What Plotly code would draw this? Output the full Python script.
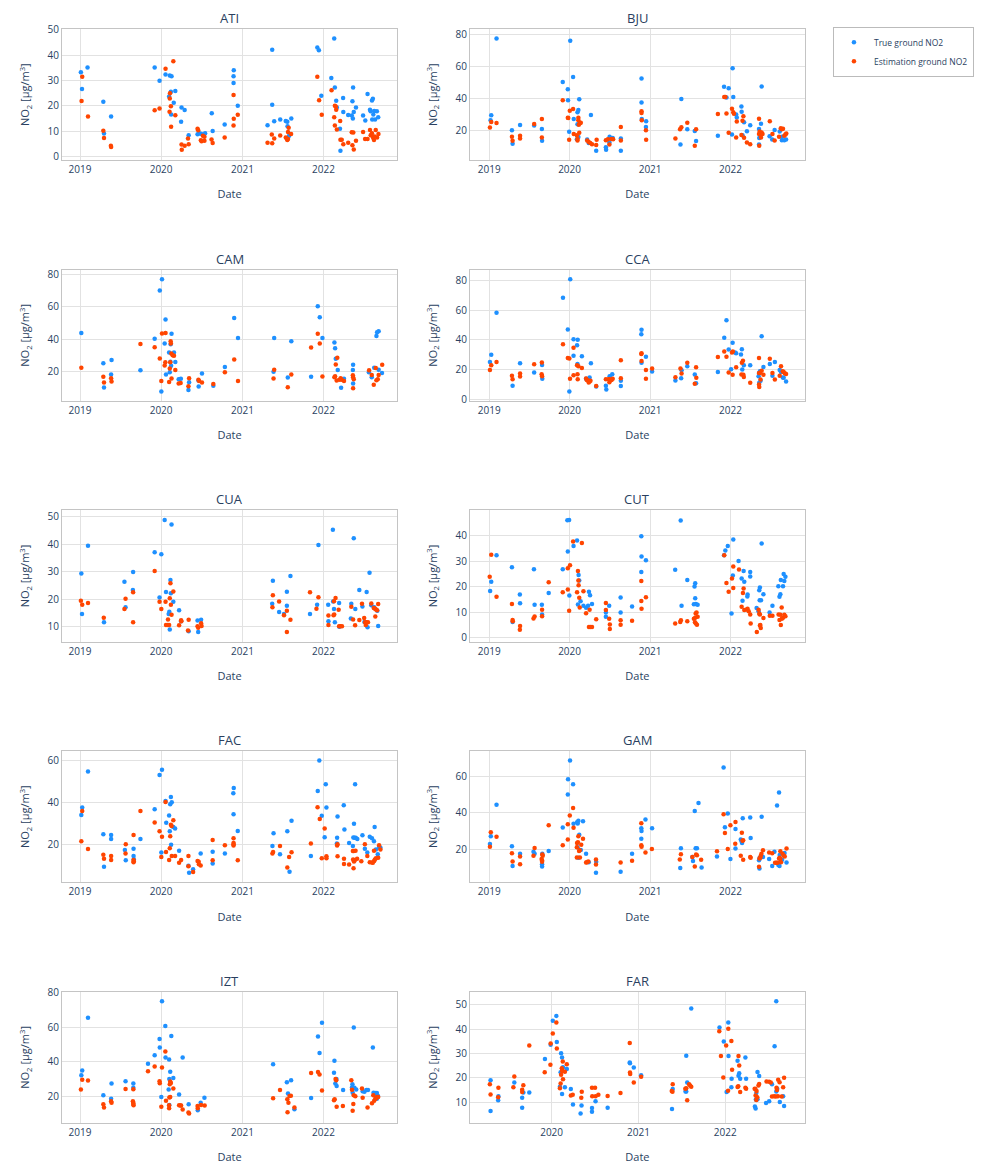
import pandas as pd
import plotly.graph_objects as go
from plotly.subplots import make_subplots

# Monitoring stations, in panel order (left to right, top to bottom)
STATIONS = ["ATI", "BJU", "CAM", "CCA", "CUA", "CUT", "FAC", "GAM", "IZT", "FAR"]

# (date, NO2 µg/m3) measured at the ground
ATI_TRUE = [("2019-01-05", 33.3), ("2019-01-10", 26.7), ("2019-02-04", 35.2), ("2019-04-16", 21.6), ("2019-04-19", 9.1),
            ("2019-05-21", 15.8), ("2019-12-03", 35.2), ("2019-12-25", 29.9), ("2020-01-21", 32.4), ("2020-02-09", 32.0),
            ("2020-02-17", 31.7), ("2020-02-06", 23.7), ("2020-02-14", 25.6), ("2020-02-15", 16.6), ("2020-02-27", 21.2),
            ("2020-03-05", 25.9), ("2020-03-31", 13.7), ("2020-04-02", 19.4), ("2020-04-16", 18.4), ("2020-05-04", 8.4),
            ("2020-06-13", 8.8), ("2020-06-20", 9.2), ("2020-06-28", 9.0), ("2020-07-07", 8.7), ("2020-07-17", 9.2),
            ("2020-08-16", 17.1), ("2020-08-20", 10.1), ("2020-10-13", 12.7), ("2020-11-23", 34.1), ("2020-11-22", 31.7),
            ("2020-11-22", 29.0), ("2020-12-11", 20.1), ("2021-05-15", 42.2), ("2021-05-15", 20.5), ("2021-04-24", 12.4),
            ("2021-05-24", 13.9), ("2021-06-20", 14.6), ("2021-07-15", 14.0), ("2021-07-22", 13.7), ("2021-07-23", 12.0),
            ("2021-08-09", 15.0), ("2021-07-30", 8.2), ("2021-12-04", 43.1), ("2021-12-11", 42.0), ("2021-12-22", 24.0),
            ("2022-02-05", 31.0), ("2022-02-21", 27.3), ("2022-02-18", 46.6), ("2022-02-27", 22.0), ("2022-03-02", 19.4),
            ("2022-03-16", 11.0), ("2022-03-18", 2.3), ("2022-03-30", 23.1), ("2022-03-31", 17.6), ("2022-04-22", 16.4),
            ("2022-05-08", 16.2), ("2022-05-11", 21.8), ("2022-05-13", 15.0), ("2022-05-14", 27.3), ("2022-05-17", 17.6),
            ("2022-05-27", 19.4), ("2022-07-08", 14.2), ("2022-06-28", 16.2), ("2022-07-18", 24.7), ("2022-07-29", 18.5),
            ("2022-08-01", 17.9), ("2022-08-07", 22.1), ("2022-08-11", 22.8), ("2022-08-13", 16.6), ("2022-08-17", 18.0),
            ("2022-08-08", 14.6), ("2022-08-21", 14.6), ("2022-08-29", 17.9), ("2022-09-04", 15.5)]
ATI_EST = [("2019-01-08", 21.9), ("2019-01-11", 31.5), ("2019-02-06", 15.8), ("2019-04-16", 10.2), ("2019-04-19", 7.3),
           ("2019-05-20", 4.3), ("2019-05-21", 3.8), ("2019-12-03", 18.3), ("2019-12-25", 19.0), ("2020-01-21", 34.7),
           ("2020-02-25", 37.6), ("2020-02-09", 22.9), ("2020-02-10", 25.0), ("2020-02-08", 17.7), ("2020-02-14", 19.9),
           ("2020-02-15", 11.8), ("2020-03-05", 16.3), ("2020-04-02", 4.8), ("2020-04-03", 2.7), ("2020-04-16", 4.3),
           ("2020-05-04", 4.9), ("2020-05-01", 7.1), ("2020-06-13", 11.0), ("2020-06-16", 10.4), ("2020-06-28", 6.4),
           ("2020-07-01", 6.0), ("2020-07-07", 8.2), ("2020-07-14", 7.8), ("2020-07-14", 6.2), ("2020-08-15", 6.7),
           ("2020-08-20", 5.3), ("2020-10-13", 7.5), ("2020-11-22", 24.3), ("2020-11-23", 14.9), ("2020-11-22", 12.3),
           ("2020-12-11", 16.5), ("2021-04-24", 5.4), ("2021-05-13", 8.7), ("2021-05-15", 5.2), ("2021-05-24", 7.1),
           ("2021-06-20", 8.3), ("2021-07-15", 7.5), ("2021-07-20", 7.0), ("2021-07-22", 6.5), ("2021-07-25", 6.9),
           ("2021-07-28", 11.4), ("2021-07-25", 9.7), ("2021-08-08", 8.9), ("2021-12-04", 31.5), ("2021-12-12", 22.2),
           ("2021-12-24", 16.5), ("2022-02-06", 26.2), ("2022-02-21", 20.1), ("2022-02-25", 19.8), ("2022-02-27", 18.5),
           ("2022-02-18", 15.5), ("2022-02-21", 12.3), ("2022-03-02", 10.7), ("2022-03-17", 14.0), ("2022-03-18", 6.6),
           ("2022-03-24", 6.6), ("2022-03-31", 4.9), ("2022-04-22", 5.4), ("2022-05-08", 9.6), ("2022-05-15", 9.5),
           ("2022-05-11", 4.5), ("2022-05-17", 2.8), ("2022-05-27", 6.2), ("2022-06-28", 9.7), ("2022-07-07", 6.9),
           ("2022-07-18", 6.9), ("2022-07-29", 10.5), ("2022-08-01", 8.4), ("2022-08-07", 9.2), ("2022-08-11", 7.8),
           ("2022-08-13", 7.3), ("2022-08-16", 6.5), ("2022-08-19", 7.9), ("2022-08-24", 10.5), ("2022-08-30", 7.5),
           ("2022-09-05", 8.9)]

BJU_TRUE = [("2019-01-07", 26.4), ("2019-01-10", 29.5), ("2019-02-03", 77.5), ("2019-04-14", 20.2), ("2019-04-17", 11.8),
            ("2019-05-21", 23.5), ("2019-07-24", 23.1), ("2019-08-28", 21.0), ("2019-08-29", 13.6), ("2019-12-01", 50.3),
            ("2019-12-24", 45.8), ("2019-12-25", 39.0), ("2019-12-30", 19.2), ("2020-01-04", 76.1), ("2020-01-17", 53.4),
            ("2020-01-20", 27.2), ("2020-02-03", 14.6), ("2020-02-06", 31.5), ("2020-02-10", 32.8), ("2020-02-14", 39.6),
            ("2020-02-06", 23.9), ("2020-02-10", 15.9), ("2020-03-21", 14.4), ("2020-03-28", 12.2), ("2020-04-07", 29.7),
            ("2020-05-01", 7.4), ("2020-06-14", 9.5), ("2020-06-15", 8.0), ("2020-06-30", 12.6), ("2020-07-01", 16.1),
            ("2020-07-15", 15.3), ("2020-08-21", 15.1), ("2020-08-21", 7.4), ("2020-11-23", 52.6), ("2020-11-23", 37.5),
            ("2020-11-24", 27.2), ("2020-12-14", 25.8), ("2020-12-13", 22.3), ("2021-05-19", 11.3), ("2021-05-23", 39.8),
            ("2021-06-19", 20.8), ("2021-07-23", 19.8), ("2021-07-29", 13.4), ("2021-11-05", 16.7), ("2021-12-03", 47.4),
            ("2021-12-14", 40.6), ("2021-12-24", 46.4), ("2022-01-11", 59.0), ("2022-01-14", 41.0), ("2022-01-08", 17.5),
            ("2022-01-27", 30.1), ("2022-01-30", 28.2), ("2022-02-20", 35.1), ("2022-02-21", 31.8), ("2022-03-04", 25.2),
            ("2022-02-25", 17.1), ("2022-03-17", 19.6), ("2022-04-01", 23.3), ("2022-05-11", 21.0), ("2022-05-11", 11.3),
            ("2022-05-12", 15.3), ("2022-05-20", 24.3), ("2022-05-23", 47.6), ("2022-06-28", 16.5), ("2022-07-10", 14.4),
            ("2022-07-21", 20.4), ("2022-08-13", 19.4), ("2022-08-23", 16.1), ("2022-08-23", 14.0), ("2022-09-03", 14.0),
            ("2022-09-11", 14.4)]
BJU_EST = [("2019-01-04", 21.9), ("2019-01-10", 25.4), ("2019-02-03", 24.7), ("2019-04-14", 16.1), ("2019-04-17", 13.6),
           ("2019-05-21", 16.7), ("2019-05-21", 15.1), ("2019-07-24", 24.1), ("2019-08-28", 27.2), ("2019-08-28", 15.7),
           ("2019-12-01", 39.0), ("2019-12-24", 28.0), ("2019-12-26", 27.8), ("2019-12-30", 14.2), ("2020-01-02", 32.4),
           ("2020-01-17", 33.4), ("2020-01-20", 17.9), ("2020-02-03", 17.1), ("2020-02-06", 13.8), ("2020-02-06", 14.8),
           ("2020-02-10", 28.0), ("2020-02-10", 26.4), ("2020-02-12", 23.7), ("2020-02-14", 18.6), ("2020-02-17", 24.5),
           ("2020-02-21", 24.9), ("2020-03-21", 13.8), ("2020-03-28", 12.8), ("2020-04-04", 12.2), ("2020-04-12", 11.5),
           ("2020-05-01", 10.9), ("2020-05-03", 14.2), ("2020-06-14", 14.0), ("2020-06-23", 14.6), ("2020-06-30", 11.3),
           ("2020-07-09", 14.8), ("2020-07-17", 14.6), ("2020-08-21", 22.3), ("2020-08-21", 13.8), ("2020-11-23", 32.0),
           ("2020-11-23", 30.9), ("2020-11-24", 26.4), ("2020-12-13", 20.2), ("2020-12-14", 14.2), ("2021-04-26", 15.1),
           ("2021-05-17", 20.8), ("2021-05-23", 22.1), ("2021-06-19", 24.9), ("2021-07-23", 10.5), ("2021-07-29", 20.8),
           ("2021-11-05", 30.3), ("2021-12-04", 41.0), ("2021-12-09", 41.0), ("2021-12-14", 30.7), ("2021-12-24", 18.6),
           ("2022-01-08", 33.6), ("2022-01-14", 31.5), ("2022-01-17", 30.5), ("2022-01-27", 15.7), ("2022-01-30", 25.6),
           ("2022-02-20", 17.3), ("2022-02-25", 26.2), ("2022-03-01", 28.9), ("2022-03-04", 15.5), ("2022-03-17", 12.6),
           ("2022-04-01", 11.5), ("2022-05-11", 27.4), ("2022-05-11", 17.9), ("2022-05-14", 19.4), ("2022-05-17", 17.9),
           ("2022-05-12", 10.5), ("2022-05-20", 15.7), ("2022-05-23", 18.8), ("2022-05-27", 17.9), ("2022-06-29", 25.8),
           ("2022-07-11", 17.9), ("2022-07-21", 13.8), ("2022-08-10", 16.1), ("2022-08-18", 21.4), ("2022-08-23", 20.8),
           ("2022-08-28", 21.2), ("2022-09-03", 16.7), ("2022-09-08", 17.5), ("2022-09-12", 18.1)]

CAM_TRUE = [("2019-01-07", 43.8), ("2019-04-16", 25.3), ("2019-04-19", 10.5), ("2019-05-23", 27.3), ("2019-05-21", 18.4),
            ("2019-09-30", 21.0), ("2019-12-03", 40.4), ("2019-12-26", 69.9), ("2020-01-05", 76.8), ("2020-01-02", 8.1),
            ("2020-01-17", 37.4), ("2020-01-21", 52.1), ("2020-01-23", 18.4), ("2020-02-06", 31.9), ("2020-02-12", 26.3),
            ("2020-02-13", 37.0), ("2020-02-17", 43.4), ("2020-02-15", 23.8), ("2020-02-09", 19.8), ("2020-02-28", 31.9),
            ("2020-03-05", 26.1), ("2020-03-20", 15.6), ("2020-03-30", 15.8), ("2020-05-03", 8.9), ("2020-05-06", 13.7),
            ("2020-06-18", 11.1), ("2020-06-17", 14.7), ("2020-07-03", 19.0), ("2020-08-23", 11.5), ("2020-10-14", 23.0),
            ("2020-11-25", 53.1), ("2020-12-12", 40.8), ("2021-05-21", 20.2), ("2021-05-24", 40.8), ("2021-07-24", 16.6),
            ("2021-08-09", 38.8), ("2021-11-06", 17.0), ("2021-12-06", 60.2), ("2021-12-15", 53.5), ("2021-12-27", 40.8),
            ("2022-02-19", 38.0), ("2022-02-22", 34.5), ("2022-02-25", 28.1), ("2022-03-06", 21.2), ("2022-03-21", 10.3),
            ("2022-04-03", 15.8), ("2022-05-13", 21.2), ("2022-05-14", 24.4), ("2022-05-14", 12.9), ("2022-07-24", 19.8),
            ("2022-08-06", 16.8), ("2022-08-17", 22.6), ("2022-08-27", 42.0), ("2022-08-30", 44.4), ("2022-09-06", 45.0),
            ("2022-09-06", 21.4), ("2022-09-21", 19.4)]
CAM_EST = [("2019-01-07", 22.6), ("2019-04-16", 17.0), ("2019-04-19", 13.5), ("2019-05-21", 16.2), ("2019-05-23", 14.1),
           ("2019-09-30", 37.2), ("2019-12-03", 35.2), ("2019-12-26", 28.3), ("2020-01-02", 14.5), ("2020-01-05", 43.6),
           ("2020-01-21", 43.8), ("2020-01-17", 24.0), ("2020-01-20", 25.9), ("2020-02-06", 13.9), ("2020-02-09", 22.2),
           ("2020-02-11", 25.9), ("2020-02-13", 38.8), ("2020-02-14", 37.4), ("2020-02-16", 31.3), ("2020-02-17", 16.0),
           ("2020-02-22", 30.3), ("2020-02-28", 29.9), ("2020-03-05", 21.2), ("2020-03-20", 12.9), ("2020-03-29", 13.3),
           ("2020-05-03", 11.3), ("2020-05-06", 16.2), ("2020-06-17", 15.2), ("2020-06-20", 14.5), ("2020-07-03", 13.5),
           ("2020-08-23", 12.7), ("2020-10-14", 19.8), ("2020-11-25", 27.7), ("2020-12-12", 14.5), ("2021-05-21", 16.0),
           ("2021-05-24", 21.4), ("2021-07-24", 10.7), ("2021-08-09", 18.4), ("2021-11-06", 35.0), ("2021-12-06", 43.4),
           ("2021-12-15", 37.4), ("2021-12-27", 17.2), ("2022-02-19", 16.8), ("2022-02-22", 17.4), ("2022-02-25", 24.6),
           ("2022-03-04", 28.7), ("2022-03-01", 14.7), ("2022-03-13", 15.2), ("2022-03-19", 16.2), ("2022-03-24", 15.2),
           ("2022-04-03", 14.5), ("2022-05-13", 18.0), ("2022-05-14", 16.8), ("2022-05-17", 15.6), ("2022-05-14", 10.1),
           ("2022-07-25", 21.0), ("2022-08-06", 18.2), ("2022-08-15", 12.1), ("2022-08-24", 22.4), ("2022-08-27", 15.0),
           ("2022-09-02", 15.6), ("2022-09-06", 18.2), ("2022-09-22", 24.4)]

CCA_TRUE = [("2019-01-04", 25.2), ("2019-01-10", 30.0), ("2019-02-03", 58.1), ("2019-04-17", 9.3), ("2019-05-21", 24.3),
            ("2019-07-24", 18.1), ("2019-08-29", 23.2), ("2019-08-30", 13.9), ("2019-12-02", 68.2), ("2019-12-24", 47.0),
            ("2019-12-31", 5.5), ("2020-01-04", 80.6), ("2020-01-19", 40.4), ("2020-01-19", 29.4), ("2020-02-04", 36.4),
            ("2020-02-07", 40.0), ("2020-02-06", 23.8), ("2020-02-26", 29.1), ("2020-03-16", 13.9), ("2020-04-01", 14.8),
            ("2020-04-07", 24.3), ("2020-05-01", 8.8), ("2020-06-14", 9.3), ("2020-06-16", 6.8), ("2020-07-01", 15.7),
            ("2020-07-13", 17.0), ("2020-08-21", 9.1), ("2020-08-21", 12.6), ("2020-11-22", 43.7), ("2020-11-23", 46.8),
            ("2020-11-23", 24.7), ("2020-12-13", 28.7), ("2021-01-10", 18.8), ("2021-04-26", 12.8), ("2021-05-22", 14.3),
            ("2021-05-24", 19.6), ("2021-06-19", 22.3), ("2021-07-23", 16.8), ("2021-07-29", 11.0), ("2021-11-05", 18.5),
            ("2021-12-04", 41.5), ("2021-12-14", 53.2), ("2021-12-24", 33.6), ("2022-01-04", 20.3), ("2022-01-11", 38.0),
            ("2022-01-22", 31.6), ("2022-01-27", 31.1), ("2022-02-18", 30.2), ("2022-02-22", 33.8), ("2022-02-24", 20.1),
            ("2022-03-03", 23.0), ("2022-04-01", 23.0), ("2022-05-09", 15.7), ("2022-05-12", 17.7), ("2022-05-15", 19.0),
            ("2022-05-18", 12.6), ("2022-05-12", 11.3), ("2022-05-23", 42.4), ("2022-05-31", 21.9), ("2022-06-29", 23.8),
            ("2022-07-22", 25.2), ("2022-07-11", 15.9), ("2022-08-13", 19.9), ("2022-08-19", 18.5), ("2022-08-27", 14.8),
            ("2022-08-31", 14.6), ("2022-09-11", 12.1)]
CCA_EST = [("2019-01-04", 19.9), ("2019-01-10", 23.0), ("2019-02-03", 25.2), ("2019-04-14", 15.9), ("2019-04-17", 13.7),
           ("2019-05-21", 17.4), ("2019-05-21", 15.5), ("2019-07-24", 23.6), ("2019-08-28", 24.9), ("2019-08-27", 17.0),
           ("2019-08-29", 15.7), ("2019-12-02", 37.1), ("2019-12-24", 27.8), ("2019-12-31", 27.6), ("2020-01-03", 13.9),
           ("2020-01-19", 34.7), ("2020-01-19", 16.3), ("2020-02-04", 23.0), ("2020-02-06", 17.0), ("2020-02-07", 13.7),
           ("2020-02-10", 22.3), ("2020-02-26", 21.2), ("2020-03-16", 14.1), ("2020-03-19", 13.2), ("2020-03-25", 12.8),
           ("2020-03-28", 11.5), ("2020-04-01", 12.1), ("2020-04-05", 12.6), ("2020-05-01", 9.1), ("2020-06-14", 13.7),
           ("2020-06-26", 13.7), ("2020-06-30", 11.7), ("2020-07-01", 13.7), ("2020-07-10", 13.2), ("2020-07-15", 13.9),
           ("2020-08-21", 26.3), ("2020-08-21", 14.3), ("2020-11-22", 30.5), ("2020-11-23", 25.8), ("2020-11-23", 31.1),
           ("2020-12-13", 19.9), ("2020-12-13", 13.9), ("2021-01-10", 20.8), ("2021-04-26", 15.0), ("2021-05-19", 20.8),
           ("2021-05-24", 17.4), ("2021-06-19", 24.7), ("2021-07-23", 10.6), ("2021-07-29", 21.6), ("2021-07-30", 14.6),
           ("2021-11-05", 28.5), ("2021-12-04", 32.2), ("2021-12-14", 28.7), ("2021-12-24", 18.1), ("2022-01-08", 31.6),
           ("2022-01-12", 32.2), ("2022-01-11", 16.6), ("2022-01-27", 21.6), ("2022-02-20", 16.8), ("2022-02-22", 24.7),
           ("2022-02-27", 26.0), ("2022-03-01", 16.6), ("2022-03-03", 15.2), ("2022-04-01", 11.3), ("2022-05-11", 27.8),
           ("2022-05-11", 17.9), ("2022-05-15", 17.9), ("2022-05-11", 10.2), ("2022-05-12", 8.4), ("2022-05-18", 13.5),
           ("2022-05-23", 19.4), ("2022-05-31", 16.6), ("2022-06-29", 27.4), ("2022-07-11", 17.9), ("2022-07-22", 13.5),
           ("2022-08-13", 15.9), ("2022-08-19", 22.3), ("2022-08-27", 19.0), ("2022-08-31", 18.5), ("2022-09-05", 17.7),
           ("2022-09-11", 17.2)]

CUA_TRUE = [("2019-01-07", 29.3), ("2019-01-10", 14.6), ("2019-02-06", 39.4), ("2019-04-19", 11.6), ("2019-07-20", 26.3),
            ("2019-07-25", 17.0), ("2019-08-28", 29.9), ("2019-08-27", 23.3), ("2019-12-03", 37.0), ("2020-01-02", 36.3),
            ("2020-01-17", 48.8), ("2019-12-25", 20.6), ("2020-01-23", 22.6), ("2020-02-04", 14.6), ("2020-02-07", 15.4),
            ("2020-02-09", 8.9), ("2020-02-12", 26.9), ("2020-02-14", 22.1), ("2020-02-17", 47.1), ("2020-02-25", 19.0),
            ("2020-03-22", 15.9), ("2020-03-31", 11.9), ("2020-05-04", 8.3), ("2020-06-13", 12.2), ("2020-06-16", 8.0),
            ("2020-06-29", 12.5), ("2021-05-18", 26.7), ("2021-05-15", 18.3), ("2021-06-15", 15.3), ("2021-07-07", 14.6),
            ("2021-07-20", 22.7), ("2021-07-20", 17.6), ("2021-08-05", 28.4), ("2021-11-01", 14.6), ("2021-12-03", 17.9),
            ("2021-12-09", 39.7), ("2022-01-22", 17.9), ("2022-01-23", 11.9), ("2022-02-12", 45.2), ("2022-02-17", 16.4),
            ("2022-02-21", 11.6), ("2022-02-13", 19.1), ("2022-03-12", 18.6), ("2022-03-13", 9.9), ("2022-05-06", 18.3),
            ("2022-05-04", 12.9), ("2022-05-17", 42.1), ("2022-05-24", 16.4), ("2022-06-11", 23.3), ("2022-06-25", 17.3),
            ("2022-07-04", 11.7), ("2022-07-14", 22.6), ("2022-07-18", 9.8), ("2022-07-27", 29.6), ("2022-08-04", 17.8),
            ("2022-08-17", 17.0), ("2022-08-31", 15.8), ("2022-09-04", 10.2)]
CUA_EST = [("2019-01-05", 19.4), ("2019-01-11", 17.9), ("2019-02-06", 18.6), ("2019-04-18", 13.2), ("2019-07-20", 16.4),
           ("2019-07-25", 20.1), ("2019-08-28", 22.5), ("2019-08-28", 11.6), ("2019-12-03", 30.2), ("2019-12-25", 19.0),
           ("2020-01-02", 16.4), ("2020-01-21", 19.0), ("2020-01-23", 10.6), ("2020-01-31", 10.6), ("2020-02-06", 10.6),
           ("2020-02-01", 12.6), ("2020-02-09", 20.3), ("2020-02-12", 25.8), ("2020-02-14", 17.9), ("2020-02-17", 14.3),
           ("2020-02-25", 22.8), ("2020-03-22", 10.5), ("2020-03-31", 12.3), ("2020-04-01", 11.9), ("2020-05-01", 8.6),
           ("2020-05-04", 12.5), ("2020-06-13", 10.1), ("2020-06-16", 9.6), ("2020-06-29", 11.2), ("2020-07-01", 10.2),
           ("2021-05-16", 17.0), ("2021-05-18", 21.4), ("2021-06-15", 19.1), ("2021-07-07", 14.1), ("2021-07-20", 15.8),
           ("2021-07-20", 8.0), ("2021-08-05", 12.5), ("2021-11-01", 22.5), ("2021-11-30", 16.5), ("2021-12-09", 20.7),
           ("2022-01-23", 14.0), ("2022-01-23", 10.6), ("2022-02-15", 14.1), ("2022-02-18", 14.4), ("2022-02-17", 19.2),
           ("2022-02-24", 20.4), ("2022-03-10", 16.1), ("2022-03-12", 10.1), ("2022-03-18", 10.1), ("2022-03-25", 10.1),
           ("2022-05-06", 17.2), ("2022-05-14", 12.6), ("2022-05-23", 10.5), ("2022-06-11", 12.4), ("2022-06-23", 18.3),
           ("2022-07-03", 13.1), ("2022-07-07", 11.6), ("2022-07-10", 10.6), ("2022-07-14", 11.6), ("2022-07-20", 11.6),
           ("2022-08-04", 18.4), ("2022-08-15", 16.8), ("2022-08-21", 16.5), ("2022-08-25", 16.2), ("2022-08-30", 15.9),
           ("2022-08-22", 13.7), ("2022-09-04", 18.2)]

CUT_TRUE = [("2019-01-05", 18.4), ("2019-01-10", 22.0), ("2019-02-03", 32.4), ("2019-04-14", 27.7), ("2019-04-17", 6.2),
            ("2019-05-21", 13.6), ("2019-05-20", 17.0), ("2019-07-23", 26.9), ("2019-07-26", 13.0), ("2019-08-28", 13.0),
            ("2019-08-29", 9.2), ("2019-09-28", 17.6), ("2019-12-01", 26.9), ("2019-12-24", 33.8), ("2019-12-22", 46.1),
            ("2019-12-30", 46.2), ("2019-12-31", 16.6), ("2020-01-19", 36.0), ("2020-02-04", 38.1), ("2020-02-11", 24.6),
            ("2020-02-14", 22.5), ("2020-02-08", 13.1), ("2020-02-20", 14.4), ("2020-03-04", 12.6), ("2020-03-16", 11.8),
            ("2020-03-25", 12.6), ("2020-03-29", 18.1), ("2020-04-03", 16.7), ("2020-04-12", 13.3), ("2020-06-14", 10.0),
            ("2020-06-14", 8.3), ("2020-06-29", 12.6), ("2020-08-20", 15.8), ("2020-08-20", 10.0), ("2020-10-11", 12.3),
            ("2020-11-22", 39.8), ("2020-11-23", 31.9), ("2020-11-22", 25.8), ("2020-12-13", 30.4), ("2021-04-25", 26.7),
            ("2021-05-20", 46.0), ("2021-05-24", 12.6), ("2021-06-19", 22.7), ("2021-07-22", 20.1), ("2021-07-25", 21.4),
            ("2021-07-25", 15.5), ("2021-07-19", 13.2), ("2021-07-28", 13.3), ("2021-08-05", 13.0), ("2021-12-09", 34.2),
            ("2021-12-20", 36.0), ("2021-12-03", 32.4), ("2022-01-06", 9.6), ("2022-01-14", 38.5), ("2022-01-12", 24.4),
            ("2022-02-07", 30.1), ("2022-02-21", 23.3), ("2022-02-25", 14.6), ("2022-03-02", 26.2), ("2022-03-05", 22.0),
            ("2022-03-19", 16.2), ("2022-03-20", 17.0), ("2022-04-01", 25.8), ("2022-04-01", 24.1), ("2022-04-30", 11.7),
            ("2022-05-09", 10.5), ("2022-05-12", 18.7), ("2022-05-15", 19.7), ("2022-05-14", 14.8), ("2022-05-20", 14.8),
            ("2022-05-23", 37.0), ("2022-05-31", 17.1), ("2022-06-28", 10.0), ("2022-07-11", 12.6), ("2022-08-07", 20.2),
            ("2022-08-12", 16.1), ("2022-08-16", 17.1), ("2022-08-18", 22.7), ("2022-08-28", 20.2), ("2022-08-31", 25.0),
            ("2022-09-03", 22.3), ("2022-09-08", 24.0)]
CUT_EST = [("2019-01-03", 24.0), ("2019-01-10", 32.6), ("2019-02-03", 16.1), ("2019-04-14", 13.3), ("2019-04-17", 7.0),
           ("2019-04-18", 6.5), ("2019-05-21", 4.7), ("2019-05-20", 3.2), ("2019-07-21", 7.6), ("2019-07-26", 8.4),
           ("2019-08-29", 11.0), ("2019-08-29", 8.5), ("2019-09-28", 21.8), ("2019-12-01", 17.9), ("2019-12-24", 19.0),
           ("2019-12-24", 27.3), ("2020-01-03", 28.5), ("2019-12-30", 10.6), ("2020-01-17", 37.8), ("2020-02-04", 17.9),
           ("2020-02-08", 26.2), ("2020-02-10", 22.5), ("2020-02-11", 20.6), ("2020-02-14", 15.7), ("2020-02-16", 11.9),
           ("2020-02-26", 37.2), ("2020-03-04", 18.3), ("2020-03-16", 9.7), ("2020-04-01", 11.0), ("2020-03-29", 4.3),
           ("2020-04-04", 4.3), ("2020-04-12", 4.3), ("2020-05-01", 7.3), ("2020-06-14", 13.7), ("2020-06-14", 10.9),
           ("2020-06-29", 7.5), ("2020-07-02", 3.5), ("2020-07-02", 5.3), ("2020-08-20", 6.9), ("2020-08-20", 5.2),
           ("2020-10-11", 6.7), ("2020-11-22", 22.3), ("2020-11-22", 14.5), ("2020-11-23", 11.4), ("2020-12-13", 15.9),
           ("2021-04-25", 5.7), ("2021-05-18", 6.2), ("2021-05-21", 6.9), ("2021-06-19", 6.5), ("2021-07-19", 7.5),
           ("2021-07-25", 7.9), ("2021-07-27", 9.6), ("2021-07-31", 10.0), ("2021-07-24", 6.1), ("2021-07-28", 5.7),
           ("2021-08-02", 5.2), ("2021-08-05", 8.3), ("2021-12-04", 32.4), ("2021-12-14", 21.5), ("2021-12-24", 18.1),
           ("2022-01-08", 23.3), ("2022-01-14", 28.0), ("2022-01-14", 19.6), ("2022-02-09", 26.8), ("2022-02-21", 12.2),
           ("2022-02-27", 17.6), ("2022-03-02", 19.4), ("2022-03-05", 10.9), ("2022-03-16", 11.1), ("2022-03-20", 11.4),
           ("2022-03-25", 10.5), ("2022-04-01", 9.2), ("2022-04-03", 5.7), ("2022-05-01", 2.3), ("2022-05-12", 9.5),
           ("2022-05-15", 9.2), ("2022-05-09", 11.0), ("2022-05-15", 4.9), ("2022-05-19", 3.9), ("2022-05-17", 5.1),
           ("2022-05-31", 7.8), ("2022-06-29", 8.7), ("2022-07-11", 8.7), ("2022-08-08", 9.2), ("2022-08-16", 9.1),
           ("2022-08-12", 7.0), ("2022-08-18", 5.1), ("2022-08-22", 11.9), ("2022-08-23", 7.5), ("2022-08-28", 7.9),
           ("2022-09-03", 9.1), ("2022-09-08", 8.5)]

FAC_TRUE = [("2019-01-07", 34.1), ("2019-01-11", 37.7), ("2019-02-06", 54.8), ("2019-04-16", 25.0), ("2019-04-19", 9.5),
            ("2019-05-21", 24.7), ("2019-05-21", 22.7), ("2019-07-22", 17.5), ("2019-07-26", 12.7), ("2019-08-30", 18.1),
            ("2019-08-30", 14.7), ("2019-08-31", 13.1), ("2019-09-30", 22.8), ("2019-12-03", 36.9), ("2019-12-25", 53.1),
            ("2020-01-05", 55.6), ("2020-01-02", 16.3), ("2020-01-21", 40.8), ("2020-01-24", 30.5), ("2020-02-06", 33.9),
            ("2020-02-09", 26.4), ("2020-02-11", 39.2), ("2020-02-14", 42.7), ("2020-02-18", 40.2), ("2020-02-15", 20.0),
            ("2020-02-25", 28.4), ("2020-03-04", 27.7), ("2020-03-22", 17.2), ("2020-05-03", 10.0), ("2020-05-06", 6.7),
            ("2020-05-24", 8.4), ("2020-06-27", 15.8), ("2020-08-20", 16.7), ("2020-08-20", 11.1), ("2020-10-14", 15.8),
            ("2020-11-23", 47.0), ("2020-11-21", 44.5), ("2020-11-22", 34.5), ("2020-12-11", 26.6), ("2021-05-16", 19.4),
            ("2021-05-21", 25.5), ("2021-06-19", 15.5), ("2021-07-22", 26.4), ("2021-08-01", 7.2), ("2021-08-10", 31.4),
            ("2021-11-05", 14.7), ("2021-12-06", 45.6), ("2021-12-13", 60.0), ("2021-12-24", 33.8), ("2022-01-06", 23.6),
            ("2022-01-14", 37.7), ("2022-01-11", 48.8), ("2022-03-05", 33.4), ("2022-03-03", 23.3), ("2022-03-02", 20.6),
            ("2022-04-02", 38.8), ("2022-04-05", 27.3), ("2022-04-26", 20.9), ("2022-05-13", 19.4), ("2022-05-15", 23.4),
            ("2022-05-18", 30.0), ("2022-05-20", 23.3), ("2022-05-23", 48.8), ("2022-05-26", 23.3), ("2022-06-02", 22.8),
            ("2022-06-25", 24.5), ("2022-07-06", 18.1), ("2022-07-17", 16.3), ("2022-07-28", 23.8), ("2022-08-07", 23.1),
            ("2022-08-16", 21.7), ("2022-08-19", 28.4), ("2022-08-25", 17.7), ("2022-09-02", 15.5), ("2022-09-08", 18.9),
            ("2022-09-14", 18.6)]
FAC_EST = [("2019-01-07", 21.7), ("2019-01-11", 36.1), ("2019-02-06", 18.0), ("2019-04-16", 15.2), ("2019-04-19", 13.4),
           ("2019-05-21", 14.7), ("2019-05-21", 12.8), ("2019-07-26", 20.3), ("2019-07-25", 15.9), ("2019-08-30", 24.7),
           ("2019-08-30", 12.8), ("2019-08-31", 12.2), ("2019-08-30", 11.7), ("2019-09-30", 36.1), ("2019-12-03", 30.6),
           ("2019-12-25", 26.4), ("2020-01-05", 23.8), ("2020-01-02", 14.2), ("2020-01-21", 40.3), ("2020-01-23", 16.6),
           ("2020-02-06", 12.8), ("2020-02-09", 18.4), ("2020-02-11", 24.1), ("2020-02-14", 29.5), ("2020-02-17", 28.9),
           ("2020-02-18", 14.7), ("2020-02-25", 31.7), ("2020-03-04", 14.7), ("2020-03-22", 11.4), ("2020-03-31", 12.8),
           ("2020-05-03", 14.7), ("2020-05-03", 9.8), ("2020-05-24", 7.0), ("2020-06-13", 12.3), ("2020-06-18", 11.9),
           ("2020-06-19", 10.8), ("2020-06-27", 10.2), ("2020-08-20", 22.3), ("2020-08-20", 12.7), ("2020-10-14", 19.8),
           ("2020-11-22", 20.9), ("2020-11-22", 20.2), ("2020-11-22", 19.7), ("2020-11-22", 23.1), ("2020-12-11", 12.7),
           ("2021-05-16", 15.9), ("2021-05-19", 16.6), ("2021-06-19", 19.4), ("2021-07-22", 9.2), ("2021-07-30", 14.2),
           ("2021-08-10", 16.4), ("2021-11-05", 20.6), ("2021-12-05", 37.8), ("2021-12-15", 32.3), ("2021-12-24", 13.6),
           ("2022-01-06", 27.7), ("2022-01-14", 14.5), ("2022-01-14", 13.6), ("2022-03-03", 19.7), ("2022-03-05", 20.3),
           ("2022-03-05", 14.5), ("2022-04-03", 13.3), ("2022-04-03", 10.9), ("2022-04-26", 10.6), ("2022-05-13", 17.0),
           ("2022-05-17", 17.0), ("2022-05-25", 17.2), ("2022-05-14", 13.0), ("2022-05-18", 12.0), ("2022-05-21", 12.5),
           ("2022-05-16", 8.9), ("2022-06-01", 13.4), ("2022-06-20", 12.2), ("2022-07-06", 20.3), ("2022-07-17", 14.7),
           ("2022-07-28", 11.7), ("2022-08-07", 11.6), ("2022-08-11", 11.4), ("2022-08-17", 12.3), ("2022-08-20", 13.0),
           ("2022-08-25", 13.6), ("2022-08-16", 17.2), ("2022-09-04", 13.8), ("2022-09-08", 19.8), ("2022-09-14", 17.7)]

GAM_TRUE = [("2019-01-04", 22.9), ("2019-01-08", 27.1), ("2019-02-03", 44.5), ("2019-04-14", 21.6), ("2019-04-17", 10.8),
            ("2019-05-21", 17.6), ("2019-07-21", 18.6), ("2019-07-26", 17.6), ("2019-08-29", 11.8), ("2019-08-29", 10.6),
            ("2019-08-30", 17.5), ("2019-09-28", 19.1), ("2019-12-01", 32.0), ("2019-12-24", 50.1), ("2019-12-25", 58.4),
            ("2020-01-03", 68.7), ("2020-01-17", 55.7), ("2020-01-19", 34.0), ("2020-02-04", 34.9), ("2020-02-07", 34.1),
            ("2020-02-10", 35.6), ("2020-02-06", 21.1), ("2020-02-10", 15.3), ("2020-02-14", 28.0), ("2020-02-21", 19.6),
            ("2020-03-02", 35.4), ("2020-03-16", 17.6), ("2020-03-28", 12.9), ("2020-05-01", 13.1), ("2020-04-30", 7.1),
            ("2020-08-20", 7.7), ("2020-10-11", 17.6), ("2020-11-22", 31.6), ("2020-11-23", 30.0), ("2020-11-22", 25.8),
            ("2020-12-11", 36.3), ("2021-01-10", 31.6), ("2021-05-18", 9.7), ("2021-05-21", 20.5), ("2021-07-12", 15.7),
            ("2021-07-15", 13.5), ("2021-07-23", 41.0), ("2021-07-27", 20.5), ("2021-08-02", 20.5), ("2021-08-09", 45.4),
            ("2021-08-23", 10.0), ("2021-11-01", 16.0), ("2021-12-01", 64.9), ("2021-12-07", 32.1), ("2021-12-20", 39.7),
            ("2022-01-01", 14.6), ("2022-01-24", 31.2), ("2022-01-24", 20.4), ("2022-02-17", 25.4), ("2022-02-23", 23.4),
            ("2022-02-26", 37.0), ("2022-02-21", 24.3), ("2022-04-01", 37.4), ("2022-04-03", 26.2), ("2022-05-11", 14.0),
            ("2022-05-13", 9.5), ("2022-05-14", 15.3), ("2022-05-23", 37.9), ("2022-05-29", 15.8), ("2022-06-26", 14.6),
            ("2022-07-10", 10.8), ("2022-07-20", 18.6), ("2022-08-01", 44.1), ("2022-08-10", 51.2), ("2022-08-13", 16.9),
            ("2022-08-07", 11.3), ("2022-08-12", 10.8), ("2022-08-19", 13.7), ("2022-08-24", 14.2), ("2022-09-04", 18.0),
            ("2022-09-13", 12.8)]
GAM_EST = [("2019-01-04", 21.4), ("2019-01-08", 29.4), ("2019-02-03", 26.9), ("2019-04-14", 17.8), ("2019-04-17", 13.3),
           ("2019-05-21", 16.0), ("2019-05-21", 11.8), ("2019-07-21", 16.4), ("2019-07-26", 20.7), ("2019-08-27", 14.6),
           ("2019-08-29", 13.8), ("2019-08-29", 13.1), ("2019-08-30", 17.1), ("2019-09-01", 16.4), ("2019-09-28", 33.2),
           ("2019-12-01", 22.2), ("2019-12-24", 33.8), ("2019-12-24", 25.4), ("2020-01-02", 38.5), ("2020-01-17", 42.6),
           ("2020-01-19", 31.8), ("2020-02-03", 21.1), ("2020-02-04", 23.4), ("2020-02-08", 23.8), ("2020-02-03", 15.5),
           ("2020-02-10", 27.2), ("2020-02-13", 19.1), ("2020-02-16", 19.5), ("2020-02-17", 15.5), ("2020-02-23", 22.5),
           ("2020-03-02", 25.8), ("2020-03-16", 12.8), ("2020-03-20", 12.9), ("2020-03-26", 13.3), ("2020-04-30", 14.4),
           ("2020-04-30", 11.7), ("2020-08-20", 12.8), ("2020-10-11", 13.7), ("2020-11-22", 34.3), ("2020-11-22", 22.2),
           ("2020-11-23", 21.4), ("2020-12-11", 18.2), ("2021-01-09", 20.2), ("2021-05-16", 14.4), ("2021-05-21", 17.3),
           ("2021-07-12", 15.7), ("2021-07-23", 10.6), ("2021-07-29", 17.1), ("2021-08-02", 16.7), ("2021-08-21", 14.2),
           ("2021-11-01", 18.9), ("2021-12-01", 39.2), ("2021-12-07", 28.9), ("2021-12-20", 20.2), ("2022-01-01", 33.2),
           ("2022-01-24", 35.0), ("2022-01-23", 23.1), ("2022-02-17", 16.4), ("2022-02-22", 29.1), ("2022-02-25", 24.7),
           ("2022-02-28", 24.9), ("2022-02-28", 14.2), ("2022-04-01", 15.7), ("2022-04-03", 15.3), ("2022-05-11", 10.4),
           ("2022-05-13", 14.9), ("2022-05-17", 15.3), ("2022-05-19", 16.4), ("2022-05-22", 17.5), ("2022-05-29", 19.5),
           ("2022-06-26", 18.2), ("2022-07-10", 17.8), ("2022-07-23", 12.6), ("2022-07-29", 12.6), ("2022-08-03", 12.6),
           ("2022-08-10", 14.9), ("2022-08-13", 15.3), ("2022-08-16", 18.9), ("2022-08-16", 14.6), ("2022-08-19", 12.9),
           ("2022-08-26", 17.6), ("2022-09-01", 16.4), ("2022-09-05", 16.0), ("2022-09-13", 20.4)]

IZT_TRUE = [("2019-01-07", 32.3), ("2019-01-11", 35.1), ("2019-02-06", 65.4), ("2019-04-16", 20.8), ("2019-05-21", 18.9),
            ("2019-05-23", 27.6), ("2019-07-25", 28.9), ("2019-08-29", 25.1), ("2019-08-29", 27.6), ("2019-11-03", 38.9),
            ("2019-12-03", 43.8), ("2019-12-25", 53.1), ("2019-12-26", 48.2), ("2020-01-05", 74.8), ("2020-01-02", 19.8),
            ("2020-01-20", 60.6), ("2020-01-21", 42.5), ("2020-02-06", 41.4), ("2020-02-04", 24.2), ("2020-02-07", 15.3),
            ("2020-02-07", 30.2), ("2020-02-11", 34.4), ("2020-02-16", 54.8), ("2020-02-25", 30.8), ("2020-03-22", 21.3),
            ("2020-04-07", 42.5), ("2020-05-04", 15.7), ("2020-06-14", 12.2), ("2020-06-27", 16.6), ("2020-07-14", 19.4),
            ("2021-05-19", 38.7), ("2021-07-20", 28.3), ("2021-07-25", 21.9), ("2021-08-08", 29.5), ("2021-08-23", 12.8),
            ("2021-11-06", 19.2), ("2021-12-07", 54.6), ("2021-12-14", 45.1), ("2021-12-25", 62.5), ("2022-02-19", 40.6),
            ("2022-02-17", 33.8), ("2022-02-23", 27.6), ("2022-02-28", 30.2), ("2022-03-01", 26.2), ("2022-03-30", 23.8),
            ("2022-05-09", 25.3), ("2022-05-11", 27.2), ("2022-05-12", 22.3), ("2022-05-17", 59.7), ("2022-05-20", 25.1),
            ("2022-05-28", 24.2), ("2022-06-26", 23.2), ("2022-07-04", 22.8), ("2022-07-13", 23.8), ("2022-07-20", 23.8),
            ("2022-08-11", 48.2), ("2022-08-14", 22.3), ("2022-08-22", 22.1), ("2022-08-29", 22.1), ("2022-08-23", 21.0),
            ("2022-09-03", 20.4), ("2022-08-29", 18.9)]
IZT_EST = [("2019-01-05", 24.2), ("2019-01-11", 29.8), ("2019-02-06", 29.3), ("2019-04-16", 15.7), ("2019-04-19", 13.8),
           ("2019-05-21", 17.4), ("2019-05-23", 16.6), ("2019-07-25", 24.5), ("2019-08-29", 24.3), ("2019-08-27", 17.4),
           ("2019-08-29", 16.4), ("2019-08-30", 15.1), ("2019-08-29", 15.8), ("2019-11-03", 34.6), ("2019-12-03", 37.4),
           ("2019-12-25", 28.9), ("2019-12-26", 27.8), ("2020-01-02", 14.3), ("2020-01-05", 36.8), ("2020-01-20", 45.9),
           ("2020-01-23", 17.7), ("2020-02-06", 15.1), ("2020-02-06", 13.4), ("2020-02-07", 19.6), ("2020-02-11", 19.8),
           ("2020-02-09", 27.2), ("2020-02-11", 28.7), ("2020-02-14", 27.9), ("2020-02-25", 24.7), ("2020-03-22", 15.1),
           ("2020-03-28", 14.9), ("2020-03-31", 14.9), ("2020-04-07", 12.6), ("2020-05-03", 10.9), ("2020-05-06", 10.4),
           ("2020-06-13", 14.7), ("2020-06-14", 13.4), ("2020-06-29", 15.3), ("2020-07-15", 14.9), ("2021-05-19", 19.1),
           ("2021-06-19", 23.8), ("2021-07-22", 18.5), ("2021-07-27", 16.6), ("2021-08-01", 20.4), ("2021-08-07", 20.6),
           ("2021-07-23", 11.1), ("2021-08-23", 13.8), ("2021-11-06", 33.6), ("2021-12-07", 34.2), ("2021-12-14", 32.7),
           ("2021-12-25", 23.6), ("2022-02-17", 17.9), ("2022-02-20", 18.5), ("2022-02-24", 30.2), ("2022-02-27", 29.5),
           ("2022-03-01", 14.3), ("2022-03-29", 14.7), ("2022-05-06", 29.5), ("2022-05-09", 24.0), ("2022-05-12", 11.9),
           ("2022-05-15", 15.8), ("2022-05-17", 20.9), ("2022-05-24", 20.2), ("2022-06-23", 24.7), ("2022-06-26", 19.4),
           ("2022-07-18", 13.8), ("2022-08-07", 16.2), ("2022-08-13", 20.8), ("2022-08-17", 17.7), ("2022-08-22", 18.9),
           ("2022-08-26", 19.1), ("2022-08-31", 19.8), ("2022-09-04", 19.8)]

FAR_TRUE = [("2019-04-19", 19.0), ("2019-04-19", 6.4), ("2019-05-22", 12.4), ("2019-05-21", 10.8), ("2019-07-28", 18.1),
            ("2019-08-30", 11.8), ("2019-08-30", 7.7), ("2019-09-04", 14.0), ("2019-09-29", 14.0), ("2019-12-04", 27.7),
            ("2019-12-28", 33.6), ("2020-01-06", 43.4), ("2020-01-21", 45.4), ("2020-01-23", 34.7), ("2020-02-10", 30.1),
            ("2020-02-14", 28.3), ("2020-02-05", 16.3), ("2020-02-14", 13.4), ("2020-02-08", 22.3), ("2020-02-18", 24.3),
            ("2020-02-26", 16.1), ("2020-03-05", 23.6), ("2020-03-22", 15.4), ("2020-03-31", 9.1), ("2020-05-06", 8.7),
            ("2020-05-02", 5.4), ("2020-06-19", 7.6), ("2020-06-19", 6.1), ("2020-07-04", 10.4), ("2020-08-24", 7.7),
            ("2020-11-25", 26.3), ("2020-11-26", 26.0), ("2020-12-12", 24.2), ("2021-01-12", 21.1), ("2021-05-22", 7.2),
            ("2021-05-25", 15.4), ("2021-07-18", 14.4), ("2021-07-21", 14.4), ("2021-07-21", 29.1), ("2021-07-25", 18.1),
            ("2021-08-11", 48.4), ("2021-12-08", 40.6), ("2021-12-26", 34.9), ("2022-01-07", 14.2), ("2022-01-14", 42.7),
            ("2022-01-15", 29.0), ("2022-01-28", 19.6), ("2022-01-27", 16.1), ("2022-02-22", 27.0), ("2022-02-26", 20.9),
            ("2022-03-01", 21.9), ("2022-03-05", 19.6), ("2022-03-27", 28.3), ("2022-03-30", 19.6), ("2022-05-06", 8.2),
            ("2022-05-09", 7.4), ("2022-05-10", 11.1), ("2022-05-12", 13.8), ("2022-05-17", 11.2), ("2022-05-17", 22.4),
            ("2022-05-24", 20.8), ("2022-06-22", 9.7), ("2022-07-05", 10.4), ("2022-07-17", 17.4), ("2022-07-28", 33.0),
            ("2022-08-04", 51.4), ("2022-08-04", 14.4), ("2022-08-08", 15.5), ("2022-08-19", 10.1), ("2022-09-02", 12.4),
            ("2022-09-06", 8.4)]
FAR_EST = [("2019-04-16", 17.4), ("2019-04-19", 13.2), ("2019-05-22", 15.9), ("2019-05-21", 12.0), ("2019-07-28", 20.5),
           ("2019-07-24", 16.1), ("2019-08-30", 15.1), ("2019-08-30", 14.2), ("2019-09-04", 17.0), ("2019-09-29", 33.3),
           ("2019-12-03", 22.3), ("2019-12-27", 25.4), ("2019-12-28", 34.1), ("2020-01-06", 38.2), ("2020-01-21", 42.7),
           ("2020-01-23", 32.0), ("2020-02-05", 15.7), ("2020-02-08", 17.7), ("2020-02-10", 21.3), ("2020-02-14", 22.8),
           ("2020-02-13", 23.9), ("2020-02-15", 23.1), ("2020-02-17", 26.7), ("2020-02-18", 19.4), ("2020-02-26", 22.5),
           ("2020-03-05", 25.6), ("2020-03-22", 12.8), ("2020-03-30", 13.1), ("2020-05-05", 11.8), ("2020-05-07", 14.3),
           ("2020-06-19", 15.9), ("2020-06-20", 12.4), ("2020-07-02", 15.9), ("2020-07-04", 12.4), ("2020-07-16", 13.1),
           ("2020-08-24", 12.6), ("2020-10-17", 13.8), ("2020-11-25", 34.3), ("2020-11-26", 22.2), ("2020-11-27", 21.6),
           ("2020-12-12", 18.1), ("2021-01-12", 20.4), ("2021-05-21", 14.6), ("2021-05-24", 14.3), ("2021-05-25", 17.4),
           ("2021-07-17", 15.5), ("2021-07-21", 15.7), ("2021-07-25", 10.8), ("2021-08-02", 17.4), ("2021-08-06", 16.9),
           ("2021-08-11", 16.3), ("2021-12-07", 39.1), ("2021-12-14", 29.0), ("2021-12-24", 20.1), ("2022-01-05", 33.3),
           ("2022-01-14", 40.1), ("2022-01-13", 14.7), ("2022-01-27", 35.1), ("2022-01-30", 23.3), ("2022-02-26", 29.0),
           ("2022-03-01", 25.1), ("2022-02-25", 16.5), ("2022-02-22", 16.2), ("2022-03-05", 14.2), ("2022-03-27", 15.9),
           ("2022-03-30", 15.5), ("2022-05-05", 15.5), ("2022-05-08", 15.4), ("2022-05-13", 14.6), ("2022-05-09", 12.8),
           ("2022-05-12", 10.9), ("2022-05-16", 12.0), ("2022-05-21", 16.9), ("2022-05-24", 17.5), ("2022-06-24", 18.5),
           ("2022-07-05", 18.4), ("2022-07-12", 18.1), ("2022-07-17", 12.3), ("2022-07-26", 12.4), ("2022-08-02", 12.3),
           ("2022-08-05", 15.9), ("2022-08-07", 15.0), ("2022-08-11", 12.4), ("2022-08-12", 19.2), ("2022-08-18", 18.2),
           ("2022-08-27", 12.3), ("2022-09-02", 16.1), ("2022-09-06", 20.0)]

SERIES = {
    "ATI": (ATI_TRUE, ATI_EST), "BJU": (BJU_TRUE, BJU_EST), "CAM": (CAM_TRUE, CAM_EST),
    "CCA": (CCA_TRUE, CCA_EST), "CUA": (CUA_TRUE, CUA_EST), "CUT": (CUT_TRUE, CUT_EST),
    "FAC": (FAC_TRUE, FAC_EST), "GAM": (GAM_TRUE, GAM_EST), "IZT": (IZT_TRUE, IZT_EST),
    "FAR": (FAR_TRUE, FAR_EST),
}
Y_DTICK = {"ATI": 10, "BJU": 20, "CAM": 20, "CCA": 20, "CUA": 10,
           "CUT": 10, "FAC": 20, "GAM": 20, "IZT": 20, "FAR": 10}

# Date window shown on each panel's x axis
LEFT_RANGE = ["2018-10-12", "2022-11-28"]
RIGHT_RANGE = ["2018-10-05", "2022-12-06"]
FAR_RANGE = ["2019-01-22", "2022-12-03"]

TRUE_COLOR = "#1e90ff"
EST_COLOR = "#ff4500"
TEXT_COLOR = "#2a3f5f"
FONT = "Open Sans, verdana, arial, sans-serif"

fig = make_subplots(rows=5, cols=2, subplot_titles=STATIONS,
                    horizontal_spacing=0.098, vertical_spacing=0.1)


def unzip(pairs):
    dates = pd.to_datetime([d for d, _ in pairs])
    values = [v for _, v in pairs]
    return dates, values


for i, name in enumerate(STATIONS):
    row, col = i // 2 + 1, i % 2 + 1
    true_pairs, est_pairs = SERIES[name]
    for pairs, label, color in ((true_pairs, "True ground NO2", TRUE_COLOR),
                                (est_pairs, "Estimation ground NO2", EST_COLOR)):
        x, y = unzip(pairs)
        fig.add_trace(go.Scatter(x=x, y=y, mode="markers", name=label,
                                 showlegend=(i == 0),
                                 marker=dict(color=color, size=4.5)),
                      row=row, col=col)
    if name == "FAR":
        xr = FAR_RANGE
    else:
        xr = LEFT_RANGE if col == 1 else RIGHT_RANGE
    fig.update_xaxes(title_text="Date", dtick="M12", tickformat="%Y",
                     range=xr, row=row, col=col)
    fig.update_yaxes(title_text="NO<sub>2</sub> [µg/m<sup>3</sup>]", dtick=Y_DTICK[name],
                     row=row, col=col)

axis_style = dict(showgrid=True, gridcolor="#e2e2e2", gridwidth=1,
                  showline=True, linecolor="#c4c4c4", linewidth=1, mirror=True,
                  zeroline=False, ticks="",
                  tickfont=dict(size=10, color=TEXT_COLOR, family=FONT),
                  title_font=dict(size=11, color=TEXT_COLOR, family=FONT))
fig.update_xaxes(**axis_style)
fig.update_yaxes(**axis_style)

for ann in fig.layout.annotations:
    ann.font = dict(size=13, color=TEXT_COLOR, family=FONT)

fig.update_layout(
    width=986, height=1174,
    margin=dict(l=62, r=172, t=29, b=37),
    paper_bgcolor="white", plot_bgcolor="white",
    font=dict(family=FONT, color=TEXT_COLOR, size=10),
    legend=dict(x=1.2274, y=1.002, xanchor="right", yanchor="top",
                bordercolor="#bbbbbb", borderwidth=1, tracegroupgap=0,
                itemwidth=30, font=dict(size=8.5, color=TEXT_COLOR)),
)

fig.write_html("out.html")
